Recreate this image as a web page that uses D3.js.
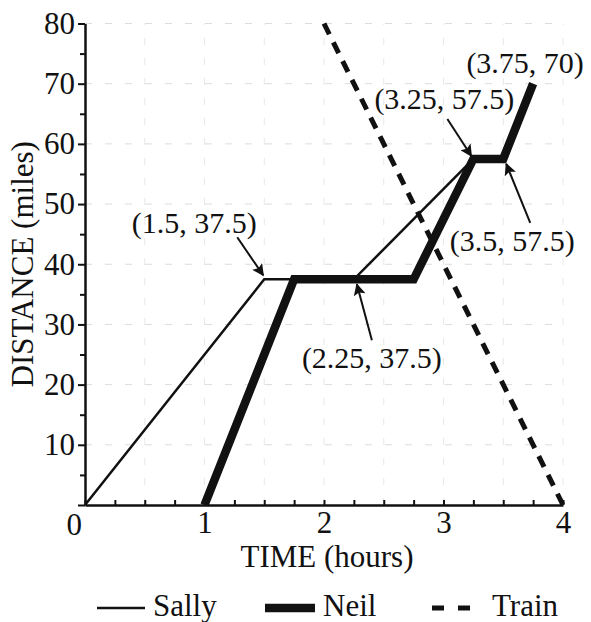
<!DOCTYPE html>
<html>
<head>
<meta charset="utf-8">
<script src="https://cdn.jsdelivr.net/npm/d3@7/dist/d3.min.js"></script>
<style>
  html, body { margin: 0; padding: 0; background: #fff; }
  svg { display: block; }
  text { font-family: "Liberation Serif", "Times New Roman", serif; fill: #111; }
</style>
</head>
<body>
<svg id="chart" width="591" height="622"></svg>
<script>
// ---- data ----
const sallyTime = [0, 1.5, 2.25, 3.25];
const sallyDist = [0, 37.5, 37.5, 57.5];
const neilTime  = [1, 1.75, 2.75, 3.25, 3.5, 3.75];
const neilDist  = [0, 37.5, 37.5, 57.5, 57.5, 70];
const trainTime = [2, 4];
const trainDist = [80, 0];

const xMajorTicks = [0, 1, 2, 3, 4];
const xMinorTicks = [0.25, 0.5, 0.75, 1.25, 1.5, 1.75, 2.25, 2.5, 2.75, 3.25, 3.5, 3.75];
const yMajorTicks = [0, 10, 20, 30, 40, 50, 60, 70, 80];
const yMinorTicks = [5, 15, 25, 35, 45, 55, 65, 75];
const xGrid = [0.5, 1, 1.5, 2, 2.5, 3, 3.5, 4];
const yGrid = [10, 20, 30, 40, 50, 60, 70, 80];

const annLabels = ["(1.5, 37.5)", "(2.25, 37.5)", "(3.25, 57.5)", "(3.5, 57.5)", "(3.75, 70)"];
const annTime   = [1.5, 2.25, 3.25, 3.5, 3.75];
const annDist   = [37.5, 37.5, 57.5, 57.5, 70];

const seriesNames = ["Sally", "Neil", "Train"];

// ---- layout ----
const svg = d3.select("#chart");
const x = d3.scaleLinear().domain([0, 4]).range([85, 563]);
const y = d3.scaleLinear().domain([0, 80]).range([505, 23.5]);

// grid
const grid = svg.append("g").attr("stroke", "#dcdcdc").attr("stroke-width", 1)
  .attr("stroke-dasharray", "7,13");
grid.selectAll("line.h").data(yGrid).join("line").attr("class", "h")
  .attr("x1", x(0)).attr("x2", x(4)).attr("y1", d => y(d)).attr("y2", d => y(d));
grid.selectAll("line.v").data(xGrid).join("line").attr("class", "v")
  .attr("stroke", "#e8e8e8")
  .attr("y1", y(0)).attr("y2", y(80)).attr("x1", d => x(d)).attr("x2", d => x(d));

// axes
const axisFont = 31;
const yAxis = svg.append("g").attr("transform", `translate(${x(0)},0)`)
  .call(d3.axisLeft(y).tickValues(yMajorTicks).tickSize(7).tickSizeOuter(0).tickPadding(3).tickFormat(d3.format("d")));
const yMinor = svg.append("g").attr("transform", `translate(${x(0)},0)`)
  .call(d3.axisLeft(y).tickValues(yMinorTicks).tickSize(5).tickSizeOuter(0).tickFormat(""));
yMinor.select(".domain").remove();
const xAxis = svg.append("g").attr("transform", `translate(0,${y(0)})`)
  .call(d3.axisBottom(x).tickValues(xMajorTicks).tickSize(-5).tickSizeOuter(0).tickPadding(10)
    .tickFormat(d => d === 0 ? "" : d3.format("d")(d)));
const xMinor = svg.append("g").attr("transform", `translate(0,${y(0)})`)
  .call(d3.axisBottom(x).tickValues(xMinorTicks).tickSize(-5).tickSizeOuter(0).tickFormat(""));
xMinor.select(".domain").remove();

[yAxis, yMinor, xAxis, xMinor].forEach(g => {
  g.attr("font-family", "Liberation Serif");
  g.selectAll("path.domain").attr("stroke", "#111").attr("stroke-width", 2.5);
  g.selectAll(".tick line").attr("stroke", "#111").attr("stroke-width", 2);
  g.selectAll("text").attr("font-family", "Liberation Serif").attr("font-size", axisFont).attr("fill", "#111");
});
xAxis.selectAll(".tick text").attr("dy", "0.71em").attr("y", 6);
// put the shared "0" label into the corner
yAxis.selectAll(".tick").filter(d => d === 0).select("text").attr("dy", "0.95em").attr("x", -3);

// axis titles
svg.append("text").attr("x", (x(0) + x(4)) / 2 + 3).attr("y", 567)
  .attr("text-anchor", "middle").attr("font-size", axisFont).text("TIME (hours)");
svg.append("text").attr("transform", `translate(33,${(y(0) + y(80)) / 2}) rotate(-90)`)
  .attr("text-anchor", "middle").attr("font-size", axisFont).text("DISTANCE (miles)");

// lines
const line = d3.line().x(d => x(d[0])).y(d => y(d[1]));
const zip = (a, b) => a.map((v, i) => [v, b[i]]);

svg.append("path").datum(zip(trainTime, trainDist)).attr("d", line)
  .attr("fill", "none").attr("stroke", "#111").attr("stroke-width", 5)
  .attr("stroke-dasharray", "12,9");
svg.append("path").datum(zip(sallyTime, sallyDist)).attr("d", line)
  .attr("fill", "none").attr("stroke", "#111").attr("stroke-width", 2.5)
  .attr("stroke-linejoin", "miter");
svg.append("path").datum(zip(neilTime, neilDist)).attr("d", line)
  .attr("fill", "none").attr("stroke", "#111").attr("stroke-width", 8.5)
  .attr("stroke-linejoin", "miter").attr("stroke-miterlimit", 2);

// annotations
svg.append("defs").append("marker").attr("id", "arrow")
  .attr("viewBox", "0 0 10 10").attr("refX", 9).attr("refY", 5)
  .attr("markerWidth", 7.5).attr("markerHeight", 6).attr("markerUnits", "strokeWidth")
  .attr("orient", "auto")
  .append("path").attr("d", "M0,0 L10,5 L0,10 L2,5 Z").attr("fill", "#111");

// offsets (px) of label centre/baseline and arrow start relative to the point
const annStyle = [
  { tx: -70, ty: -46, ax: -27, ay: -42, tipx: -1, tipy: -4, arrow: true },
  { tx: 18,  ty: 89,  ax: 18,  ay: 61,  tipx: 3,  tipy: 5,  arrow: true },
  { tx: -29, ty: -50, ax: -26, ay: -40, tipx: -2, tipy: -3, arrow: true },
  { tx: 9,   ty: 92,  ax: 27,  ay: 64,  tipx: 3,  tipy: 5,  arrow: true },
  { tx: -8,  ty: -11, arrow: false }
];
const ann = svg.append("g");
annLabels.forEach((lab, i) => {
  const px = x(annTime[i]), py = y(annDist[i]), s = annStyle[i];
  ann.append("text").attr("x", px + s.tx).attr("y", py + s.ty)
    .attr("text-anchor", "middle").attr("font-size", 30).text(lab);
  if (s.arrow) {
    ann.append("line").attr("x1", px + s.ax).attr("y1", py + s.ay)
      .attr("x2", px + s.tipx).attr("y2", py + s.tipy)
      .attr("stroke", "#111").attr("stroke-width", 2).attr("marker-end", "url(#arrow)");
  }
});

// legend
const legX = [97, 265, 432];
const legLen = [48, 50, 40];
const legY = 608;
const leg = svg.append("g");
seriesNames.forEach((name, i) => {
  const g = leg.append("g");
  const l = g.append("line").attr("x1", legX[i]).attr("x2", legX[i] + legLen[i])
    .attr("y1", legY).attr("y2", legY).attr("stroke", "#111");
  if (i === 0) l.attr("stroke-width", 2.5);
  if (i === 1) l.attr("stroke-width", 8.5);
  if (i === 2) l.attr("stroke-width", 5).attr("stroke-dasharray", "12,14");
  g.append("text").attr("x", legX[i] + legLen[i] + (i === 2 ? 20 : 8)).attr("y", 616)
    .attr("font-size", 31).text(name);
});
</script>
</body>
</html>
